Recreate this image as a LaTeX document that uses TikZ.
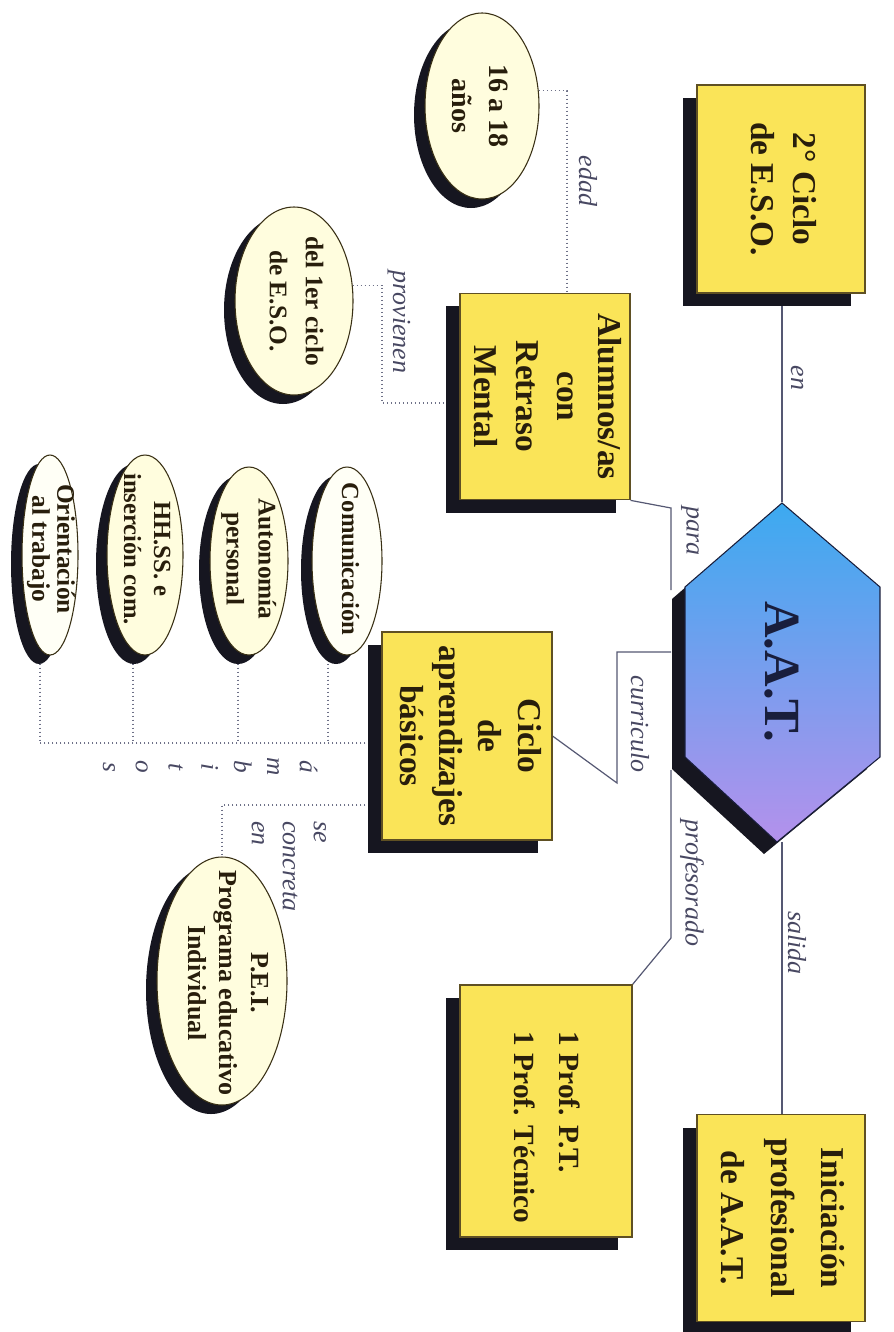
\documentclass[tikz,border=0pt]{standalone}
\usepackage{fontspec}
\setmainfont{Liberation Serif}
\usepackage{graphicx}
\usetikzlibrary{shapes.geometric,shadows}
\pgfdeclarelayer{bg}
\pgfsetlayers{bg,main}
\definecolor{boxy}{RGB}{250,228,88}
\definecolor{boxline}{RGB}{95,80,35}
\definecolor{shad}{RGB}{22,22,32}
\definecolor{cream}{RGB}{255,253,222}
\definecolor{whitish}{RGB}{255,255,246}
\definecolor{lab}{RGB}{72,72,98}
\definecolor{conn}{RGB}{85,88,115}
\definecolor{hexA}{RGB}{60,170,240}
\definecolor{hexM}{RGB}{140,165,232}
\definecolor{hexB}{RGB}{180,145,236}
\definecolor{hexT}{RGB}{25,30,60}
\definecolor{txt}{RGB}{40,30,12}
\newcommand{\vtxt}[1]{\rotatebox{-90}{\begin{tabular}{@{}c@{}}#1\end{tabular}}}
\newcommand{\vtxtl}[1]{\rotatebox{-90}{\begin{tabular}{@{}l@{}}#1\end{tabular}}}
\tikzset{
  box/.style={draw=boxline, line width=0.8pt, fill=boxy, inner sep=0pt, text=txt,
    drop shadow={shadow xshift=-10.5pt, shadow yshift=-9.75pt, opacity=1, fill=shad}},
  ell/.style={ellipse, draw=boxline!60!black, line width=0.8pt, fill=cream, inner sep=0pt,
    drop shadow={shadow xshift=-8.25pt, shadow yshift=-6.75pt, opacity=1, fill=shad}},
  etext/.style={inner sep=0pt, text=txt},
  lbl/.style={inner sep=0pt, text=lab, font=\itshape\fontsize{19.5}{24}\selectfont},
  conline/.style={draw=conn, line width=0.9pt},
  dots/.style={draw=conn!85, line width=1pt, dotted},
}
\begin{document}
\begin{tikzpicture}[x=0.75pt,y=-0.75pt]
\useasboundingbox (0,0) rectangle (893,1332);
\begin{pgfonlayer}{bg}
  \fill[white] (0,0) rectangle (893,1332);
\end{pgfonlayer}

% hexagon
\fill[shad, shift={(-13,12)}] (782,503) -- (880,587) -- (880,757) -- (777,842) -- (685,757) -- (685,587) -- cycle;
\shadedraw[draw=hexT, line width=0.8pt, top color=hexA, middle color=hexM, bottom color=hexB]
  (782,503) -- (880,587) -- (880,757) -- (777,842) -- (685,757) -- (685,587) -- cycle;
\node[inner sep=0pt, minimum width=146.25pt, minimum height=254.25pt, text=hexT,
  font=\bfseries\fontsize{38}{40}\selectfont] (hex) at (782,672) {\rotatebox{-90}{A.A.T.}};
\coordinate (hexpara) at (671,590);
\coordinate (hexcurr) at (671,652);
\coordinate (hexprof) at (671,770);

% boxes
\node[box, minimum width=126pt, minimum height=156pt, font=\bfseries\fontsize{25}{31.5}\selectfont]
  (eso) at (781,189) {\vtxt{2° Ciclo\\de E.S.O.}};
\node[box, minimum width=126pt, minimum height=155pt, font=\bfseries\fontsize{25}{37.5}\selectfont]
  (ini) at (781,1218) {\vtxt{Iniciación\\profesional\\de A.A.T.}};
\node[box, minimum width=127.5pt, minimum height=155pt, font=\bfseries\fontsize{25}{31}\selectfont]
  (alu) at (545,396.5) {\vtxt{Alumnos/as\\con\\Retraso\\Mental}};
\node[box, minimum width=127.5pt, minimum height=156pt, font=\bfseries\fontsize{25}{29.5}\selectfont]
  (cab) at (467,736) {\vtxt{Ciclo\\de\\aprendizajes\\básicos}};
\node[box, minimum width=129pt, minimum height=189pt, font=\bfseries\fontsize{22}{33.75}\selectfont]
  (prof) at (546,1111) {\vtxtl{\hspace*{25pt}1 Prof. P.T.\\\hspace*{25pt}1 Prof. Técnico}};

% ellipses
\node[ell, minimum width=85.5pt, minimum height=139.5pt] (e16) at (482,106) {};
\node[etext, font=\bfseries\fontsize{21}{27.75}\selectfont] (e16t) at (478,106) {\vtxt{16 a 18\\años}};
\node[ell, minimum width=88.5pt, minimum height=141pt] (e1er) at (294,301) {};
\node[etext, font=\bfseries\fontsize{19}{27}\selectfont] (e1ert) at (295,301) {\vtxt{del 1er ciclo\\de E.S.O.}};
\node[ell, fill=whitish, minimum width=52.5pt, minimum height=141pt] (com) at (347,561) {};
\node[etext, font=\bfseries\fontsize{18.5}{22}\selectfont] (comt) at (348,559) {\vtxt{Comunicación}};
\node[ell, minimum width=58.5pt, minimum height=141pt] (aut) at (249,561) {};
\node[etext, font=\bfseries\fontsize{19}{24}\selectfont] (autt) at (249,559) {\vtxt{Autonomía\\personal}};
\node[ell, minimum width=57pt, minimum height=150pt] (hhss) at (145,555) {};
\node[etext, font=\bfseries\fontsize{18.5}{22.5}\selectfont] (hhsst) at (145,549) {\vtxt{HH.SS. e\\inserción com.}};
\node[ell, fill=whitish, minimum width=42pt, minimum height=150pt] (ori) at (50,555) {};
\node[etext, font=\bfseries\fontsize{19}{18.75}\selectfont] (orit) at (50,549) {\vtxt{Orientación\\al trabajo}};
\node[ell, minimum width=97.5pt, minimum height=186pt] (pei) at (222,981) {};
\node[etext, font=\bfseries\fontsize{19.5}{23.5}\selectfont] (peit) at (226,983) {\vtxt{P.E.I.\\Programa educativo\\Individual}};

% labels
\node[lbl] (len) at (797,378) {\rotatebox{-90}{en}};
\node[lbl] (lsal) at (797,943) {\rotatebox{-90}{salida}};
\node[lbl] (lpara) at (690,531) {\rotatebox{-90}{para}};
\node[lbl] (lcurr) at (640,724) {\rotatebox{-90}{curriculo}};
\node[lbl] (lprof) at (692,883) {\rotatebox{-90}{profesorado}};
\node[lbl] (ledad) at (588,181) {\rotatebox{-90}{edad}};
\node[lbl] (lprov) at (399,322) {\rotatebox{-90}{provienen}};
\node[lbl, anchor=north, font=\itshape\fontsize{19.5}{23.25}\selectfont] (lconc) at (289,821) {\vtxtl{se\\concreta\\en}};
\node[lbl, font=\itshape\fontsize{19}{24.6}\selectfont] (lamb) at (208,767) {\vtxt{á\\m\\b\\i\\t\\o\\s}};

% connectors
\begin{pgfonlayer}{bg}
  \draw[conline] (hex.north |- eso.south) -- (hex.north);
  \draw[conline] (hex.south) -- (hex.south |- ini.north);
  \draw[conline] (alu.south east) -- (671,508) -- (hexpara);
  \draw[conline] (hexcurr) -- (617,652) -- (617,783) -- (cab.east);
  \draw[conline] (hexprof) -- (671,938) -- (prof.north east);
  \draw[dots] (e16.15) -| ([xshift=16.5pt]alu.north);
  \draw[dots] (e1er.15) -| (382,403) -- (alu.west |- 382,403);
  \coordinate (ambL) at (40,743);
  \draw[dots] (cab.west |- ambL) -- (ambL);
  \draw[dots] ([xshift=-14.25pt]com.south) -- ([xshift=-14.25pt]com.south |- ambL);
  \draw[dots] ([xshift=-8.25pt]aut.south) -- ([xshift=-8.25pt]aut.south |- ambL);
  \draw[dots] ([xshift=-9pt]hhss.south) -- ([xshift=-9pt]hhss.south |- ambL);
  \draw[dots] ([xshift=-7.5pt]ori.south) -- ([xshift=-7.5pt]ori.south |- ambL);
  \draw[dots] (cab.west |- 0,805) -| (pei.north);
\end{pgfonlayer}
\end{tikzpicture}
\end{document}
